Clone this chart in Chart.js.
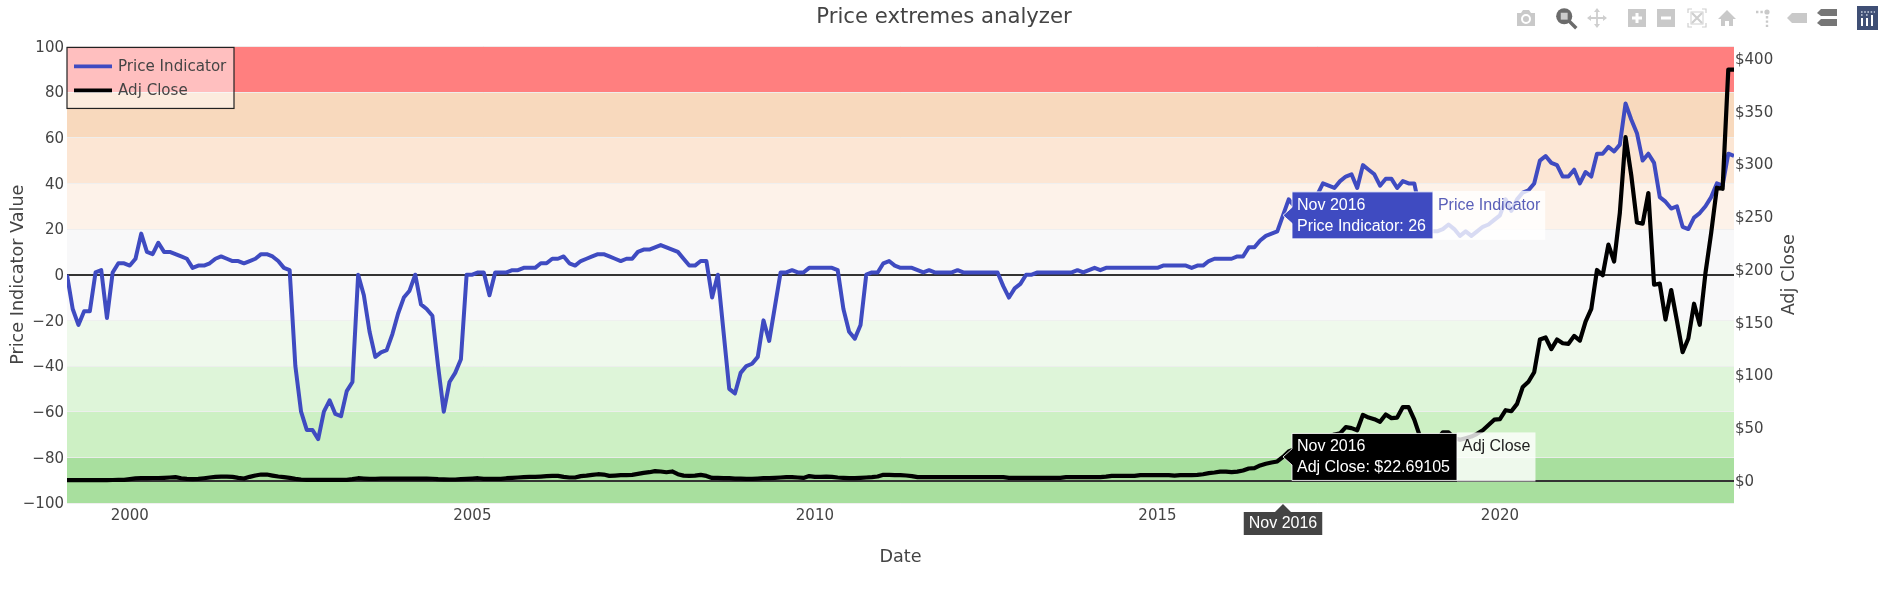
<!DOCTYPE html>
<html>
<head>
<meta charset="utf-8">
<title>Price extremes analyzer</title>
<script src="https://cdn.jsdelivr.net/npm/chart.js@4"></script>
<style>
html,body{margin:0;padding:0;background:#fff;overflow:hidden}
#wrap{position:relative;width:1888px;height:596px}
canvas{display:block}
.ico{position:absolute;top:8px;width:20px;height:20px}
</style>
</head>
<body>
<div id="wrap">
<canvas id="c" width="1888" height="596"></canvas>
<svg class="ico" style="left:1516px" viewBox="0 0 20 20"><path fill="#c9c9c9" d="M1 5h4l2-3h6l2 3h4v13H1z"/><circle cx="10" cy="11" r="4" fill="none" stroke="#fff" stroke-width="2"/></svg>
<svg class="ico" style="left:1555px;width:23px;height:23px;top:7px" viewBox="0 0 20 20"><circle cx="8" cy="8" r="7" fill="#6b6b6b"/><rect x="5" y="5" width="6" height="6" fill="#ccc"/><path d="M12 12l6.5 6.5" stroke="#6b6b6b" stroke-width="3"/></svg>
<svg class="ico" style="left:1587px" viewBox="0 0 20 20"><path fill="none" stroke="#cfcfcf" stroke-width="1.8" d="M10 1v18M1 10h18"/><path fill="#cfcfcf" d="M10 0l3 4H7zM10 20l3-4H7zM0 10l4-3v6zM20 10l-4-3v6z"/></svg>
<svg class="ico" style="left:1627px" viewBox="0 0 20 20"><rect x="1" y="1" width="18" height="18" fill="#c9c9c9"/><path d="M10 5v10M5 10h10" stroke="#fff" stroke-width="3"/></svg>
<svg class="ico" style="left:1656px" viewBox="0 0 20 20"><rect x="1" y="1" width="18" height="18" fill="#c9c9c9"/><path d="M5 10h10" stroke="#fff" stroke-width="3"/></svg>
<svg class="ico" style="left:1687px" viewBox="0 0 20 20"><path fill="none" stroke="#cfcfcf" stroke-width="1.2" d="M1 5V1h4M15 1h4v4M19 15v4h-4M5 19H1v-4"/><path stroke="#cfcfcf" stroke-width="2.2" d="M5 5l10 10M15 5L5 15"/><rect x="4" y="4" width="12" height="12" fill="none" stroke="#cfcfcf"/></svg>
<svg class="ico" style="left:1717px" viewBox="0 0 20 20"><path fill="#c9c9c9" d="M10 2L1 11h3v7h4v-5h4v5h4v-7h3z"/></svg>
<svg class="ico" style="left:1754px" viewBox="0 0 20 20"><circle cx="13" cy="4" r="2.6" fill="#c9c9c9"/><path d="M2 4h7M13 8v11" stroke="#c9c9c9" stroke-width="2.4" stroke-dasharray="2.4 2"/></svg>
<svg class="ico" style="left:1787px" viewBox="0 0 20 20"><path fill="#c9c9c9" d="M0 10l5-5h15v10H5z"/></svg>
<svg class="ico" style="left:1817px" viewBox="0 0 20 20"><path fill="#767676" d="M0 5l4-4h16v7H4zM0 15l4-4h16v7H4z"/></svg>
<svg class="ico" style="left:1857px;width:21px;height:24px;top:6px" viewBox="0 0 21 24"><rect width="21" height="24" fill="#3f4f75"/><path stroke="#fff" stroke-width="2" d="M5 12v8M10 12v8M15 9v11" /><path stroke="#c8d0e0" stroke-width="1.6" stroke-dasharray="1.6 1.6" d="M4 6h14M4 9h3M9 9h3"/></svg>
</div>
<script>
const chartTitle = 'Price extremes analyzer';
const seriesNames = ['Price Indicator', 'Adj Close'];
const axisTitles = {x: 'Date', y: 'Price Indicator Value', y2: 'Adj Close'};
const firstYear = 1999.083;
const priceIndicator = [
0,-15,-22,-16,-16,1,2,-19,1,5,5,4,7,18,10,9,14,10,10,9,8,7,3,4,4,5,7,8,7,6,6,5,6,7,9,9,8,6,3,2,
-40,-60,-68,-68,-72,-60,-55,-61,-62,-51,-47,0,-9,-25,-36,-34,-33,-26,-17,-10,-7,0,-13,-15,-18,-40,-60,-47,-43,-37,0,0,1,1,-9,1,1,1,2,2,
3,3,3,5,5,7,7,8,5,4,6,7,8,9,9,8,7,6,7,7,10,11,11,12,13,12,11,10,7,4,4,6,6,-10,0,-25,-50,-52,-43,-40,
-39,-36,-20,-29,-14,1,1,2,1,1,3,3,3,3,3,2,-15,-25,-28,-22,0,1,1,5,6,4,3,3,3,2,1,2,1,1,1,1,2,1,1,1,
1,1,1,1,-5,-10,-6,-4,0,0,1,1,1,1,1,1,1,2,1,2,3,2,3,3,3,3,3,3,3,3,3,3,4,4,4,4,4,3,4,4,
6,7,7,7,7,8,8,12,12,15,17,18,19,26,33,30,29,30,32,35,40,39,38,41,43,44,38,48,46,44,39,42,42,38,41,40,40,28,21,19,
19,20,22,20,17,19,17,19,21,22,24,26,33,28,33,36,37,40,50,52,49,48,43,43,46,40,45,43,53,53,56,54,57,75,68,62,50,53,49,34,
32,29,30,21,20,25,27,30,34,40,39,53,52];
const adjClose = [
0.6,0.6,0.6,0.6,0.6,0.7,0.7,0.7,0.8,0.9,1.0,1.6,2.3,2.5,2.6,2.7,2.7,2.9,3.2,3.5,2.5,1.9,1.6,1.9,2.5,3.2,3.8,4.1,4.1,3.8,2.8,2.2,3.8,5.1,6,6,5,4.1,3.5,2.8,
1.9,1.3,0.9,0.9,0.9,0.9,0.9,0.9,0.9,0.9,1.6,2.5,2.2,1.9,1.9,2.2,2.2,2.2,2.2,2.2,2.2,2.2,2.2,2.2,2.0,1.6,1.4,1.3,1.3,1.6,1.9,2.2,2.5,1.9,1.9,1.9,1.9,2.5,2.8,3.2,
3.5,3.8,3.8,4.1,4.4,4.7,4.7,3.8,3.2,3.2,4.5,5,5.7,6.3,6,4.7,5,5.4,5.4,5.7,6.6,7.6,8.2,9.2,8.9,8.2,8.9,6.3,5,4.7,5,5.7,4.7,2.8,2.8,2.5,2.5,2.2,2.2,1.9,
1.9,2.2,2.5,2.5,2.8,3.2,3.5,3.5,3.2,2.8,4.5,3.8,3.8,4.1,3.8,3.2,2.8,2.5,2.5,2.8,3.2,3.5,4.1,5.7,5.7,5.4,5.4,5.1,4.5,3.5,3.5,3.5,3.5,3.5,3.5,3.5,3.5,3.5,3.5,3.5,
3.5,3.5,3.5,3.5,3.5,2.8,2.8,2.8,2.8,2.8,2.8,2.8,2.8,2.8,2.8,3.5,3.5,3.5,3.5,3.5,3.5,3.5,4,4.7,4.7,4.7,4.7,4.7,5.4,5.4,5.4,5.4,5.4,5.4,5,5.4,5.4,5.4,5.7,6.3,7.3,
7.9,8.8,8.8,8.2,8.8,9.8,11.7,12,14.6,16.2,17.4,18.4,22.69105,27.8,30,32,34,36,37,40,42,44,45,51,50,48,62.6,60,58.5,56,63,59.5,60,70,70,58,42,38,
36,39,46,46,40.5,39,40.5,42,44.6,48,53,58,58.5,67,66,73,89,94,103,134,136,125,134,130.5,130,137.5,133,151,163,200,195,224,208,254,326,290,245,244,273,186,
187,153,181,152,122,135,168,148,197,235,278,277,390,390];
const monthYears = priceIndicator.map((_, i) => firstYear + i / 12);
const yTickStep = 20;
const y2TickStep = 50;
const xTickStep = 5;
const bandEdges = [100,80,60,40,20,-20,-40,-60,-80,-100];
const bandColors = ['#ff7f7f','#f8d9bd','#fce6d4','#fdf2e9','#f8f8f9','#eff9ec','#def5d9','#cdf0c4','#a8df9e'];
const hoverIndex = 213;
const hoverDate = 'Nov 2016';

const UI = '"DejaVu Sans", Verdana, sans-serif';
const HV = '"Liberation Sans", Arial, sans-serif';

function hoverLabel(ctx, x, y, fill, lines, name, nameColor) {
  ctx.save();
  ctx.font = '16px ' + HV;
  const w = Math.max(ctx.measureText(lines[0]).width, ctx.measureText(lines[1]).width) + 12;
  const left = x + 9, top = y - 23.5, h = 47;
  const nameW = ctx.measureText(name).width + 10;
  ctx.fillStyle = 'rgba(255,255,255,0.8)';
  ctx.fillRect(left + w, top - 1, nameW, h + 2);
  ctx.beginPath();
  ctx.moveTo(x, y); ctx.lineTo(left, y - 8); ctx.lineTo(left, top); ctx.lineTo(left + w, top);
  ctx.lineTo(left + w, top + h); ctx.lineTo(left, top + h); ctx.lineTo(left, y + 8); ctx.closePath();
  ctx.fillStyle = fill; ctx.fill();
  ctx.strokeStyle = 'rgba(255,255,255,0.85)'; ctx.lineWidth = 1; ctx.stroke();
  ctx.fillStyle = '#fff'; ctx.textBaseline = 'middle'; ctx.textAlign = 'left';
  ctx.fillText(lines[0], left + 5, y - 10);
  ctx.fillText(lines[1], left + 5, y + 11);
  ctx.fillStyle = nameColor;
  ctx.fillText(name, left + w + 5, y - 10);
  ctx.restore();
}

const overlay = {
  id: 'overlay',
  beforeDraw(chart) {
    const {ctx, chartArea: a, scales: {y}} = chart;
    ctx.save();
    bandColors.forEach((c, i) => {
      const t = y.getPixelForValue(bandEdges[i]), b = y.getPixelForValue(bandEdges[i + 1]);
      ctx.fillStyle = c;
      ctx.fillRect(a.left, t, a.right - a.left, b - t);
    });
    ctx.restore();
  },
  afterDraw(chart) {
    const {ctx, chartArea: a, scales: {x, y, y2}, data} = chart;
    const px = x.getPixelForValue(monthYears[hoverIndex]);
    ctx.save();
    ctx.translate(1789, (a.top + a.bottom) / 2);
    ctx.rotate(-Math.PI / 2);
    ctx.font = '17.6px ' + UI; ctx.fillStyle = '#444'; ctx.textAlign = 'center'; ctx.textBaseline = 'middle';
    ctx.fillText(axisTitles.y2, 0, 0);
    ctx.restore();
    const blue = data.datasets[0], black = data.datasets[1];
    hoverLabel(ctx, px, y.getPixelForValue(blue.data[hoverIndex]), blue.borderColor,
      [hoverDate, seriesNames[0] + ': ' + blue.data[hoverIndex]], seriesNames[0], '#5a5fb8');
    hoverLabel(ctx, px, y2.getPixelForValue(black.data[hoverIndex]), black.borderColor,
      [hoverDate, seriesNames[1] + ': $' + black.data[hoverIndex]], seriesNames[1], '#222');
    ctx.save();
    ctx.font = '16px ' + HV;
    const tw = ctx.measureText(hoverDate).width + 10, bt = a.bottom + 9, bh = 23;
    ctx.fillStyle = '#444';
    ctx.beginPath();
    ctx.moveTo(px, a.bottom + 1); ctx.lineTo(px + 8, bt); ctx.lineTo(px + tw / 2, bt); ctx.lineTo(px + tw / 2, bt + bh);
    ctx.lineTo(px - tw / 2, bt + bh); ctx.lineTo(px - tw / 2, bt); ctx.lineTo(px - 8, bt); ctx.closePath(); ctx.fill();
    ctx.fillStyle = '#fff'; ctx.textAlign = 'center'; ctx.textBaseline = 'middle';
    ctx.fillText(hoverDate, px, bt + bh / 2 + 0.5);
    ctx.restore();
    ctx.save();
    const lx = a.left, ly = a.top + 1, lw = 167, lh = 61;
    ctx.fillStyle = 'rgba(255,255,255,0.5)'; ctx.fillRect(lx, ly, lw, lh);
    ctx.strokeStyle = '#222'; ctx.lineWidth = 1.2; ctx.strokeRect(lx, ly, lw, lh);
    ctx.font = '15.1px ' + UI; ctx.textBaseline = 'middle'; ctx.textAlign = 'left';
    data.datasets.forEach((d, i) => {
      const ry = ly + 19 + i * 24;
      ctx.strokeStyle = d.borderColor; ctx.lineWidth = 3.8;
      ctx.beginPath(); ctx.moveTo(lx + 7, ry); ctx.lineTo(lx + 45, ry); ctx.stroke();
      ctx.fillStyle = '#444';
      ctx.fillText(d.label, lx + 51, ry + 1);
    });
    ctx.restore();
  }
};

new Chart(document.getElementById('c'), {
  type: 'line',
  data: {
    labels: monthYears,
    datasets: [
      {label: seriesNames[0], data: priceIndicator, yAxisID: 'y', borderColor: '#3f4bc1', backgroundColor: '#3f4bc1', borderWidth: 4, pointRadius: 0, tension: 0, order: 2, borderJoinStyle: 'round'},
      {label: seriesNames[1], data: adjClose, yAxisID: 'y2', borderColor: '#000000', backgroundColor: '#000000', borderWidth: 4.2, pointRadius: 0, tension: 0, order: 1, borderJoinStyle: 'round'}
    ]
  },
  options: {
    responsive: false,
    devicePixelRatio: 1,
    animation: false,
    events: [],
    layout: {padding: 0},
    plugins: {
      legend: {display: false},
      tooltip: {enabled: false},
      title: {display: true, text: chartTitle, color: '#444', font: {family: UI, size: 21.2, weight: 'normal'}, padding: {top: 5, bottom: 16}}
    },
    scales: {
      x: {
        type: 'linear',
        min: monthYears[0],
        max: monthYears[monthYears.length - 1],
        grid: {display: false, drawTicks: false},
        border: {display: false},
        afterBuildTicks: s => { s.ticks = s.ticks.filter(t => t.value >= s.min && t.value <= s.max && t.value % xTickStep === 0); },
        ticks: {stepSize: xTickStep, includeBounds: false, autoSkip: false, maxRotation: 0, padding: 4, color: '#444', font: {family: UI, size: 15}, callback: v => String(v)},
        title: {display: true, text: axisTitles.x, color: '#444', font: {family: UI, size: 17.6}, padding: {top: 0, bottom: 28}},
        afterFit: s => { s.height = 93; }
      },
      y: {
        position: 'left',
        min: -100, max: 100,
        grid: {color: c => c.tick.value === 0 ? '#333' : 'rgba(238,238,238,0.9)', lineWidth: c => c.tick.value === 0 ? 2 : 1, drawTicks: false},
        border: {display: false},
        ticks: {stepSize: yTickStep, padding: 3, labelOffset: 1.5, color: '#444', font: {family: UI, size: 15}, callback: v => String(v).replace('-', '\u2212')},
        title: {display: true, text: axisTitles.y, color: '#444', font: {family: UI, size: 17.6}, padding: {top: 8, bottom: 0}},
        afterFit: s => { s.width = 67; }
      },
      y2: {
        position: 'right',
        min: -21, max: 412,
        grid: {color: c => c.tick.value === 0 ? '#333' : 'rgba(0,0,0,0)', lineWidth: c => c.tick.value === 0 ? 2 : 0, drawTicks: false, drawOnChartArea: true},
        border: {display: false},
        afterBuildTicks: s => { s.ticks = s.ticks.filter(t => t.value >= s.min && t.value <= s.max); },
        ticks: {stepSize: y2TickStep, includeBounds: false, padding: 1, labelOffset: 1, color: '#444', font: {family: UI, size: 15}, callback: v => '$' + v},
        afterFit: s => { s.width = 154; }
      }
    }
  },
  plugins: [overlay]
});
</script>
</body>
</html>
